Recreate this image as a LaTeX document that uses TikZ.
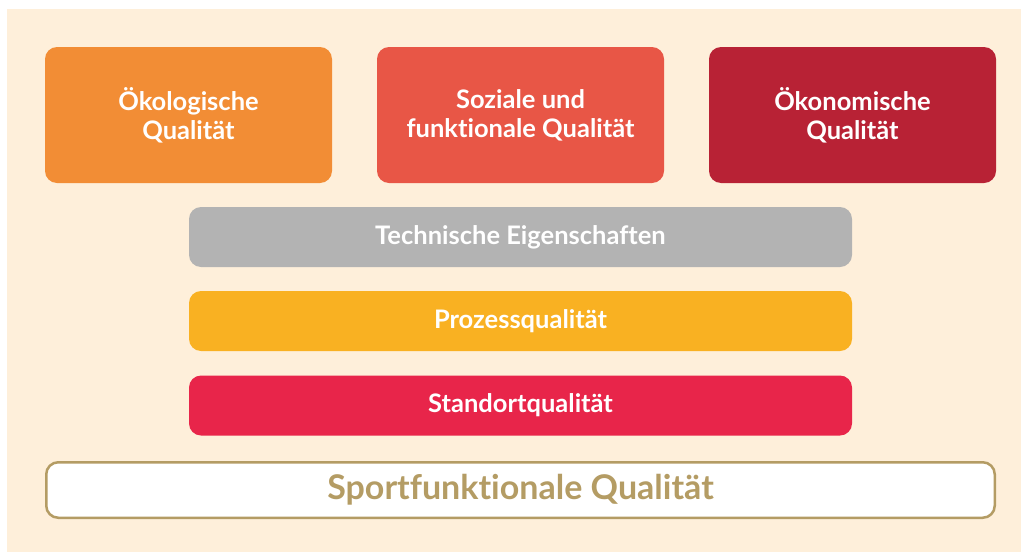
\documentclass[tikz,border=0pt]{standalone}
\usepackage{fontspec}
\setmainfont{Lato}[UprightFont=* Bold, Ligatures=NoCommon]
\definecolor{beige}{HTML}{FEEFDA}
\definecolor{oekoorange}{HTML}{F28D35}
\definecolor{sozialrot}{HTML}{E85646}
\definecolor{oekonrot}{HTML}{B82235}
\definecolor{techgrau}{HTML}{B3B3B3}
\definecolor{prozessgelb}{HTML}{F9B122}
\definecolor{standortrot}{HTML}{E8254A}
\definecolor{sporttan}{HTML}{B49C64}

\begin{document}
\begin{tikzpicture}[x=1pt,y=-1pt,
  saeule/.style={fill=#1, rounded corners=12pt, text=white, align=center,
    minimum width=287pt, minimum height=136pt, inner sep=0pt,
    font=\fontsize{25.5}{29}\selectfont},
  schicht/.style={fill=#1, rounded corners=12pt, text=white,
    minimum width=663pt, minimum height=60pt, inner sep=0pt,
    font=\fontsize{25.5}{29}\selectfont}]
  % Background
  \useasboundingbox (0,0) rectangle (1021,552);
  \fill[beige] (7,9) rectangle (1021,552);
  % Three pillars
  \node[saeule=oekoorange] (oeko) at (188.5,115) {Ökologische\\Qualität};
  \node[saeule=sozialrot] (sozial) at (520.5,115) {Soziale und\\funktionale Qualität};
  \node[saeule=oekonrot] (oekon) at (852.5,115) {Ökonomische\\Qualität};
  % Layers below
  \node[schicht=techgrau] (tech) at (520.5,237) {Technische Eigenschaften};
  \node[schicht=prozessgelb] (prozess) at (520.5,321) {Prozessqualität};
  \node[schicht=standortrot] (standort) at (520.5,405.5) {Standortqualität};
  % Base
  \node[draw=sporttan, line width=2.5pt, fill=white, rounded corners=12pt,
    minimum width=948.5pt, minimum height=55.5pt, inner sep=0pt,
    text=sporttan, font=\fontsize{34}{38}\selectfont] (sport) at (520.5,490)
    {Sportfunktionale Qualität};
\end{tikzpicture}
\end{document}
